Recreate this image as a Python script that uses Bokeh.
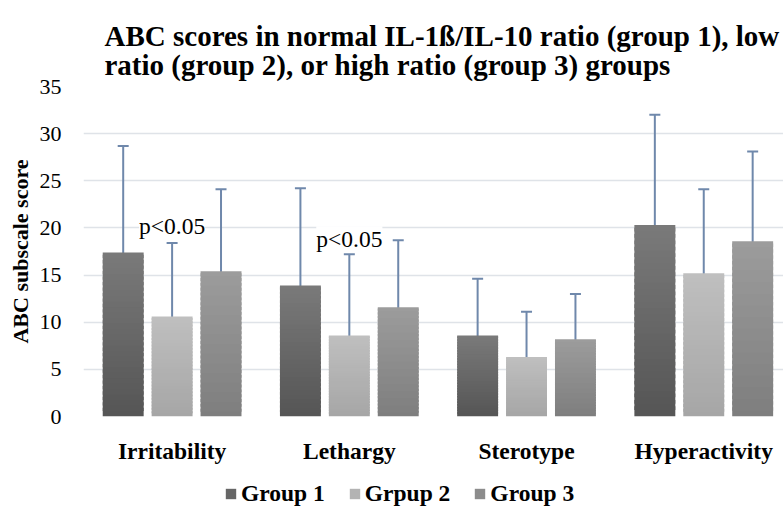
from bokeh.plotting import figure
from bokeh.layouts import column
from bokeh.models import (Range1d, FixedTicker, Whisker, TeeHead, ColumnDataSource,
                          Legend, LegendItem, Label)
from bokeh.embed import file_html
from bokeh.resources import INLINE

# ---------------- data ----------------
categories = ["Irritability", "Lethargy", "Sterotype", "Hyperactivity"]
group_names = ["Group 1", "Grpup 2", "Group 3"]

group1 = [17.4, 13.9, 8.6, 20.3]
group2 = [10.6, 8.6, 6.3, 15.2]
group3 = [15.4, 11.6, 8.2, 18.6]

group1_err_low = [16.3, 12.8, 7.5, 19.2]
group1_err_high = [28.7, 24.2, 14.6, 32.0]
group2_err_low = [9.5, 7.5, 5.2, 14.2]
group2_err_high = [18.4, 17.2, 11.1, 24.1]
group3_err_low = [14.3, 10.5, 7.2, 17.6]
group3_err_high = [24.1, 18.7, 13.0, 28.1]

y_ticks = [0, 5, 10, 15, 20, 25, 30, 35]
sig_text = "p<0.05"
sig_categories = ["Irritability", "Lethargy"]
sig_y = [20.2, 18.8]

# ---------------- style ----------------
FONT = "Liberation Serif"
top_colors = [(0x7a, 0x7a, 0x7a), (0xbf, 0xbf, 0xbf), (0x9c, 0x9c, 0x9c)]
bot_colors = [(0x55, 0x55, 0x55), (0xa6, 0xa6, 0xa6), (0x7e, 0x7e, 0x7e)]
mid_colors = ["#666666", "#b3b3b3", "#8c8c8c"]
ERR_COLOR = "#6f88ab"
GRID_COLOR = "#dfe3e8"
BAR_W = 0.231
OFFSETS = [-0.276, 0.0, 0.276]
N_SLICES = 30

p = figure(width=783, height=466, output_backend="svg", toolbar_location=None,
           x_range=Range1d(0, 3.95), y_range=Range1d(0, 35),
           min_border_left=83, min_border_right=0, min_border_top=86,
           min_border_bottom=46)
p.outline_line_color = None
p.background_fill_color = "white"
p.border_fill_color = "white"

p.title.text = ("ABC scores in normal IL-1\u00df/IL-10 ratio (group 1), low\n"
                "ratio (group 2), or high ratio (group 3) groups")
p.title.text_font = FONT
p.title.text_font_size = "29px"
p.title.text_font_style = "bold"
p.title.text_color = "black"
p.title.align = "left"
p.title.offset = 21
p.title.standoff = 11
p.title.text_line_height = 0.92

centers = [i + 0.5 for i in range(len(categories))]

series = [group1, group2, group3]
err_low = [group1_err_low, group2_err_low, group3_err_low]
err_high = [group1_err_high, group2_err_high, group3_err_high]

for g in range(3):
    xs = [c + OFFSETS[g] for c in centers]
    vals = series[g]
    for k in range(N_SLICES):
        f = (k + 0.5) / N_SLICES
        r_, g_, b_ = [int(round(bot_colors[g][j] + (top_colors[g][j] - bot_colors[g][j]) * f))
                      for j in range(3)]
        col = "#%02x%02x%02x" % (r_, g_, b_)
        top_frac = min((k + 1.6) / N_SLICES, 1.0)
        src = ColumnDataSource(dict(x=xs,
                                    bottom=[v * k / N_SLICES for v in vals],
                                    top=[v * top_frac for v in vals]))
        p.vbar(x="x", bottom="bottom", top="top", width=BAR_W, source=src,
               fill_color=col, line_color=None)

    esrc = ColumnDataSource(dict(x=xs, lower=err_low[g], upper=err_high[g]))
    w = Whisker(base="x", lower="lower", upper="upper", source=esrc,
                line_color=ERR_COLOR, line_width=2,
                upper_head=TeeHead(size=11, line_color=ERR_COLOR, line_width=2),
                lower_head=TeeHead(size=11, line_color=ERR_COLOR, line_width=2))
    p.add_layout(w)

for cat, yv in zip(sig_categories, sig_y):
    p.add_layout(Label(x=centers[categories.index(cat)], y=yv, text=sig_text,
                       text_align="center", text_baseline="middle",
                       text_font=FONT, text_font_size="23.5px", text_color="black",
                       background_fill_color="white"))

# axes
p.xaxis.ticker = FixedTicker(ticks=centers)
p.xaxis.major_label_overrides = {c: lab for c, lab in zip(centers, categories)}
p.xaxis.major_label_text_font = FONT
p.xaxis.major_label_text_font_size = "23.5px"
p.xaxis.major_label_text_font_style = "bold"
p.xaxis.major_label_text_color = "black"
p.xaxis.major_label_standoff = 15
p.xaxis.axis_line_color = None
p.xaxis.major_tick_line_color = None
p.xaxis.minor_tick_line_color = None

p.yaxis.ticker = FixedTicker(ticks=y_ticks)
p.yaxis.major_label_text_font = FONT
p.yaxis.major_label_text_font_size = "22px"
p.yaxis.major_label_text_color = "black"
p.yaxis.major_label_standoff = 16
p.yaxis.axis_line_color = None
p.yaxis.major_tick_line_color = None
p.yaxis.minor_tick_line_color = None
p.yaxis.axis_label = "ABC subscale score"
p.yaxis.axis_label_text_font = FONT
p.yaxis.axis_label_text_font_size = "22px"
p.yaxis.axis_label_text_font_style = "bold"
p.yaxis.axis_label_text_color = "black"
p.yaxis.axis_label_standoff = 4

p.xgrid.grid_line_color = None
p.ygrid.grid_line_color = GRID_COLOR
p.ygrid.grid_line_width = 1.5

# ---------------- legend strip ----------------
lg = figure(width=783, height=41, output_backend="svg", toolbar_location=None,
            x_range=Range1d(0, 1), y_range=Range1d(0, 1),
            min_border=0)
lg.outline_line_color = None
lg.axis.visible = False
lg.grid.visible = False
items = []
for g in range(3):
    r = lg.vbar(x=[5], top=[0], width=0.1, fill_color=mid_colors[g], line_color=None)
    items.append(LegendItem(label=group_names[g], renderers=[r]))
legend = Legend(items=items, orientation="horizontal", location=(141, 0),
                label_text_font=FONT, label_text_font_size="23.5px",
                label_text_font_style="bold", label_text_color="black",
                glyph_width=13, glyph_height=13, label_standoff=4, spacing=23,
                label_height=11,
                border_line_color=None, background_fill_alpha=0,
                margin=0, padding=0)
lg.add_layout(legend)

layout = column(p, lg, spacing=0)
open("out.html", "w").write(file_html(layout, INLINE))
